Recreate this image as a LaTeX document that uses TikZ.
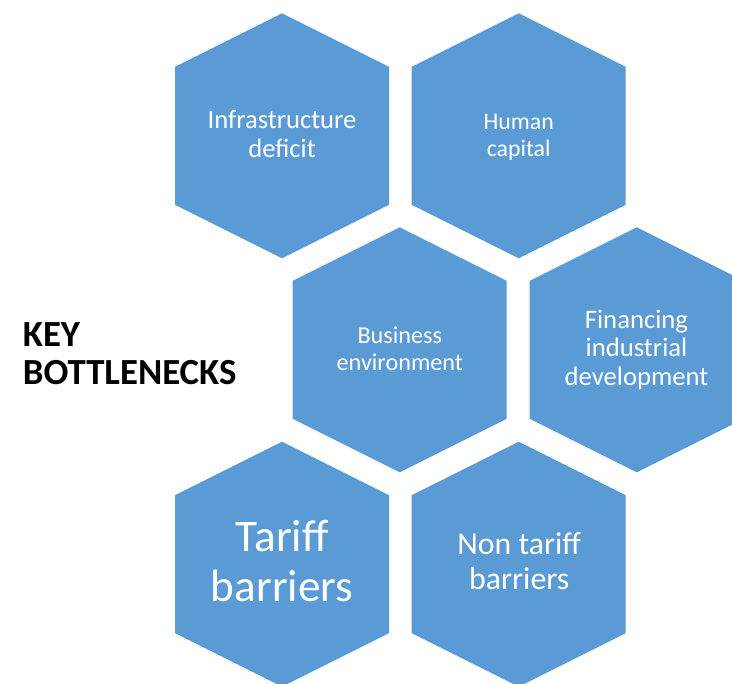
\documentclass[tikz,border=0pt]{standalone}
\usepackage{fontspec}
\setmainfont{Carlito}
\definecolor{hexblue}{HTML}{5B9BD5}
\tikzset{
  hexfill/.style={fill=hexblue},
  hextext/.style={text=white, align=center, inner sep=0pt, anchor=base},
  keytext/.style={text=black, align=left, inner sep=0pt, anchor=base west, font=\bfseries\fontsize{36.8}{38}\selectfont}
}
\newcommand\hexcell[2]{%
  \fill[hexfill] (#1,#2) +(0,-122.5) -- +(107,-69) -- +(107,69) -- +(0,122.5) -- +(-107,69) -- +(-107,-69) -- cycle;}
\begin{document}
\begin{tikzpicture}[x=1pt,y=-1pt]
\useasboundingbox (0,0) rectangle (732,684);
\clip (0,0) rectangle (732,684);
\hexcell{282}{135.8}
\hexcell{518.7}{135.8}
\hexcell{399.7}{349.8}
\hexcell{636.7}{349.8}
\hexcell{282}{564.2}
\hexcell{518.7}{564.2}
\node[hextext, font=\fontsize{26.6}{29}\selectfont] (infra) at (282,158) {Infrastructure\\deficit};
\node[hextext, font=\fontsize{23.8}{27.4}\selectfont] (human) at (518.7,156.7) {Human\\capital};
\node[hextext, font=\fontsize{24.2}{27.4}\selectfont] (business) at (399.8,370.7) {Business\\environment};
\node[hextext, font=\fontsize{26.7}{28.7}\selectfont] (finance) at (636.5,385.7) {Financing\\industrial\\development};
\node[hextext, font=\fontsize{45.2}{50}\selectfont] (tariff) at (282.2,601.7) {Tariff\\barriers};
\node[hextext, font=\fontsize{31.8}{35}\selectfont] (nontariff) at (519.2,590) {Non tariff\\barriers};
\node[keytext] (key) at (22.7,385) {KEY\\BOTTLENECKS};
\end{tikzpicture}
\end{document}
